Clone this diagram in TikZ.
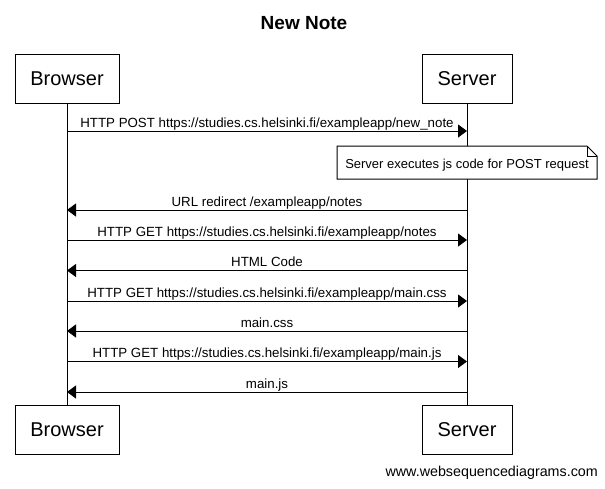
\documentclass[tikz,border=0pt]{standalone}
\usepackage{fontspec}
\setmainfont{Liberation Sans}
\usetikzlibrary{arrows.meta}
\tikzset{
  actor/.style={draw, line width=1pt, minimum height=49pt, inner sep=0pt, font=\fontsize{20}{24}\selectfont},
  life/.style={line width=1pt},
  msg/.style={line width=1pt, -{Triangle[length=9pt,width=13pt]}},
  lbl/.style={anchor=base, inner sep=0pt, font=\fontsize{13.3}{15}\selectfont},
  notebox/.style={line width=1pt, fill=white},
}
\begin{document}
\begin{tikzpicture}[x=1pt,y=-1pt]
\useasboundingbox (0,0) rectangle (605,488);
\node[anchor=base, font=\fontsize{19}{22}\selectfont\bfseries] (title) at (304,29) {New Note};
% actors
\node[actor, minimum width=104pt] (b1) at (67,78.5) {Browser};
\node[actor, minimum width=90pt] (s1) at (467,78.5) {Server};
\node[actor, minimum width=104pt] (b2) at (67,429.5) {Browser};
\node[actor, minimum width=90pt] (s2) at (467,429.5) {Server};
% lifelines
\draw[life] (b1.south) -- (b2.north);
\draw[life] (s1.south) -- (s2.north);
% message anchor points
\foreach \n/\y in {1/131,2/210,3/240,4/270.5,5/301,6/331,7/361.5,8/392}{
  \coordinate (bp\n) at (67,\y);
  \coordinate (sp\n) at (467,\y);
}
\draw[msg] (bp1) -- (sp1) node[lbl, midway, yshift=4pt] (m1) {HTTP POST https://studies.cs.helsinki.fi/exampleapp/new\_note};
% note
\coordinate (nA) at (337,146);
\coordinate (nB) at (587,146);
\coordinate (nC) at (597,156);
\coordinate (nD) at (597,179);
\coordinate (nE) at (337,179);
\draw[notebox] (nA) -- (nB) -- (nC) -- (nD) -- (nE) -- cycle;
\draw[line width=1pt] (nB) -- (587,156) -- (nC);
\node[lbl, font=\fontsize{13}{15}\selectfont] (note) at (467,168) {Server executes js code for POST request};
\draw[msg] (sp2) -- (bp2) node[lbl, midway, yshift=4pt] (m2) {URL redirect /exampleapp/notes};
\draw[msg] (bp3) -- (sp3) node[lbl, midway, yshift=4pt] (m3) {HTTP GET https://studies.cs.helsinki.fi/exampleapp/notes};
\draw[msg] (sp4) -- (bp4) node[lbl, midway, yshift=4pt] (m4) {HTML Code};
\draw[msg] (bp5) -- (sp5) node[lbl, midway, yshift=4pt] (m5) {HTTP GET https://studies.cs.helsinki.fi/exampleapp/main.css};
\draw[msg] (sp6) -- (bp6) node[lbl, midway, yshift=4pt] (m6) {main.css};
\draw[msg] (bp7) -- (sp7) node[lbl, midway, yshift=4pt] (m7) {HTTP GET https://studies.cs.helsinki.fi/exampleapp/main.js};
\draw[msg] (sp8) -- (bp8) node[lbl, midway, yshift=4pt] (m8) {main.js};
\node[anchor=base east, inner sep=0pt, font=\fontsize{14.3}{16}\selectfont] (footer) at (598,476) {www.websequencediagrams.com};
\end{tikzpicture}
\end{document}
